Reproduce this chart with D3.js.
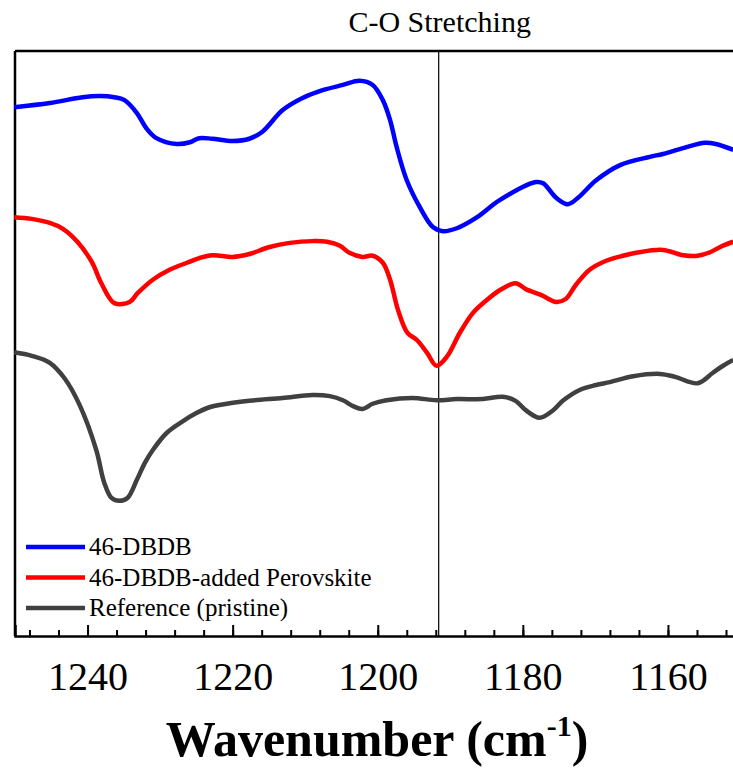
<!DOCTYPE html>
<html lang="en">
<head>
  <meta charset="UTF-8">
  <title>C-O Stretching FTIR</title>
  <script src="https://d3js.org/d3.v7.min.js"></script>
  <style>
    body { margin: 0; background: #fff; }
    svg { display: block; }
    text { font-family: "Liberation Serif", "Times New Roman", serif; fill: #000; }
    .curve { fill: none; stroke-width: 4.5px; stroke-linejoin: round; }
  </style>
</head>
<body>
  <svg width="733" height="771"></svg>

  <script>
    const width = 733, height = 771;
    const margin = { left: 15, right: 740.5, top: 51, bottom: 636 };

    // wavenumber (cm-1) and transmittance (a.u.)
    const blueWn = [1250.1, 1245.2, 1240.7, 1238.3, 1236.3, 1234.9, 1233.2, 1231.9, 1230.5, 1227.7, 1225.9, 1224.6, 1222.8, 1220, 1217.7, 1215.9, 1213.1, 1210.3, 1207.6, 1204.8, 1202.5, 1200.7, 1199.3, 1198.3, 1197.4, 1196, 1194.2, 1192.4, 1191, 1189.1, 1186.3, 1183.2, 1178.2, 1177.2, 1175.4, 1173.8, 1172.4, 1169.9, 1166.6, 1162.5, 1160.7, 1157.9, 1154.9, 1153.4, 1151];
    const blueT = [90.4, 91.1, 92.1, 92.3, 92.1, 91.6, 89.4, 86.8, 85.1, 84.1, 84.4, 85.1, 85.0, 84.6, 85.0, 86.2, 89.9, 92.0, 93.3, 94.2, 94.9, 94.2, 91.6, 88.2, 83.6, 77.9, 73.3, 69.9, 69.2, 69.7, 71.6, 74.5, 77.6, 77.4, 74.9, 73.8, 74.9, 77.9, 80.5, 81.9, 82.4, 83.4, 84.3, 84.1, 83.1];

    const redWn = [1250.1, 1247.7, 1245.2, 1243.4, 1241.4, 1239.4, 1238.1, 1236.3, 1234.2, 1233.1, 1231.0, 1228.7, 1226.3, 1224.6, 1222.8, 1220, 1217.7, 1214.9, 1212.1, 1209, 1207, 1205.2, 1203.9, 1202.1, 1200.7, 1199.3, 1198.3, 1197.2, 1195.9, 1194.6, 1193.2, 1191.9, 1190.5, 1188.7, 1186.9, 1185, 1183.2, 1181, 1179.6, 1177.5, 1175.4, 1174.1, 1172.7, 1170.8, 1168.6, 1166.2, 1164.4, 1160.7, 1157.9, 1155.9, 1154.2, 1152.8, 1151];
    const redT = [71.6, 71.3, 70.6, 69.6, 67.4, 63.9, 60.3, 56.9, 57.1, 58.6, 60.9, 62.6, 63.8, 64.6, 65.1, 64.8, 65.3, 66.5, 67.2, 67.5, 67.4, 66.7, 65.5, 64.8, 65.0, 63.8, 60.9, 55.7, 51.8, 50.6, 48.4, 46.2, 47.7, 51.8, 55.2, 57.4, 59.1, 60.3, 59.3, 58.3, 57.1, 57.6, 60.0, 62.6, 64.1, 65.0, 65.5, 66.0, 65.1, 65.0, 65.6, 66.5, 67.4];

    const greyWn = [1250.1, 1247.7, 1245.2, 1243.2, 1241.1, 1238.8, 1237.7, 1236.7, 1235.6, 1234.5, 1233.2, 1232.1, 1231.0, 1229.1, 1227.0, 1225.0, 1223.2, 1220.8, 1217.7, 1213.1, 1209.0, 1206.6, 1204.8, 1203.4, 1202.1, 1200.7, 1198.8, 1195.2, 1191.9, 1189.1, 1185.5, 1182.8, 1181.0, 1179.6, 1177.7, 1175.9, 1174.5, 1172.1, 1169.9, 1168.0, 1164.8, 1161.1, 1159.0, 1155.9, 1153.8, 1152.4, 1151.0];
    const greyT = [48.5, 47.9, 46.7, 44.1, 39.5, 31.8, 26.2, 23.6, 23.1, 23.6, 26.7, 29.6, 31.8, 34.7, 36.6, 38.1, 39.1, 39.7, 40.2, 40.7, 41.2, 41.0, 40.3, 39.3, 38.8, 39.7, 40.3, 40.7, 40.3, 40.5, 40.5, 40.9, 40.2, 38.6, 37.3, 38.5, 40.2, 42.1, 42.9, 43.4, 44.4, 44.8, 44.3, 43.2, 45.0, 46.2, 47.2];

    const seriesNames = ["46-DBDB", "46-DBDB-added Perovskite", "Reference (pristine)"];
    const seriesColors = ["#0000ff", "#ff0000", "#404040"];
    const xTicks = [1240, 1220, 1200, 1180, 1160];
    const markerWn = 1191.6;
    const markerLabel = "C-O Stretching";

    const series = [
      d3.zip(blueWn, blueT),
      d3.zip(redWn, redT),
      d3.zip(greyWn, greyT)
    ];

    const svg = d3.select("svg");
    const serif = "'Liberation Serif', 'Times New Roman', serif";

    const x = d3.scaleLinear().domain([1250, 1150]).range([margin.left, margin.right]);
    const y = d3.scaleLinear().domain([0, 100]).range([margin.bottom, margin.top]);

    // frame (top and left only, right side falls off the page)
    svg.append("line")
      .attr("x1", margin.left).attr("x2", margin.right)
      .attr("y1", margin.top).attr("y2", margin.top)
      .attr("stroke", "#000").attr("stroke-width", 2.5);
    svg.append("line")
      .attr("x1", margin.left).attr("x2", margin.left)
      .attr("y1", margin.top).attr("y2", margin.bottom)
      .attr("stroke", "#000").attr("stroke-width", 2.5);

    // bottom axis with inward ticks
    const minor = d3.range(1248, 1150, -4);
    svg.append("g")
      .attr("transform", `translate(0,${margin.bottom})`)
      .call(d3.axisBottom(x).tickValues(minor).tickSize(-6).tickFormat(""))
      .call(g => g.select(".domain").remove())
      .selectAll("line").attr("stroke-width", 2);

    const xAxis = svg.append("g")
      .attr("transform", `translate(0,${margin.bottom})`)
      .attr("font-family", serif)
      .call(d3.axisBottom(x).tickValues(xTicks).tickSize(-11).tickPadding(26).tickFormat(d3.format("d")));
    xAxis.select(".domain").attr("stroke-width", 2.5);
    xAxis.selectAll("line").attr("stroke-width", 2);
    xAxis.selectAll("text")
      .attr("font-size", 40)
      .attr("font-family", serif)
      .attr("dy", "0.71em");

    // marker line
    svg.append("line")
      .attr("x1", x(markerWn)).attr("x2", x(markerWn))
      .attr("y1", margin.top).attr("y2", margin.bottom)
      .attr("stroke", "#000").attr("stroke-width", 1.2);
    svg.append("text")
      .attr("x", x(markerWn) + 1).attr("y", 32)
      .attr("text-anchor", "middle")
      .attr("font-size", 30)
      .attr("font-family", serif)
      .text(markerLabel);

    // curves
    const line = d3.line()
      .x(d => x(d[0]))
      .y(d => y(d[1]))
      .curve(d3.curveCatmullRom.alpha(0.5));

    svg.selectAll(".curve")
      .data(series)
      .enter().append("path")
      .attr("class", "curve")
      .attr("d", line)
      .attr("stroke", (d, i) => seriesColors[i]);

    // legend
    const legend = svg.selectAll(".legend")
      .data(seriesNames)
      .enter().append("g")
      .attr("class", "legend")
      .attr("transform", (d, i) => `translate(26,${547 + i * 30.5})`);
    legend.append("line")
      .attr("x1", 0).attr("x2", 59)
      .attr("stroke", (d, i) => seriesColors[i])
      .attr("stroke-width", 4.5);
    legend.append("text")
      .attr("x", 63).attr("y", 8)
      .attr("font-size", 25)
      .attr("font-family", serif)
      .text(d => d);

    // axis title
    const title = svg.append("text")
      .attr("x", 377).attr("y", 756)
      .attr("text-anchor", "middle")
      .attr("font-size", 50)
      .attr("font-family", serif)
      .attr("font-weight", "bold");
    title.append("tspan").text("Wavenumber (cm");
    title.append("tspan").attr("font-size", 30).attr("dy", -20).text("-1");
    title.append("tspan").attr("dy", 20).text(")");
  </script>
</body>
</html>
